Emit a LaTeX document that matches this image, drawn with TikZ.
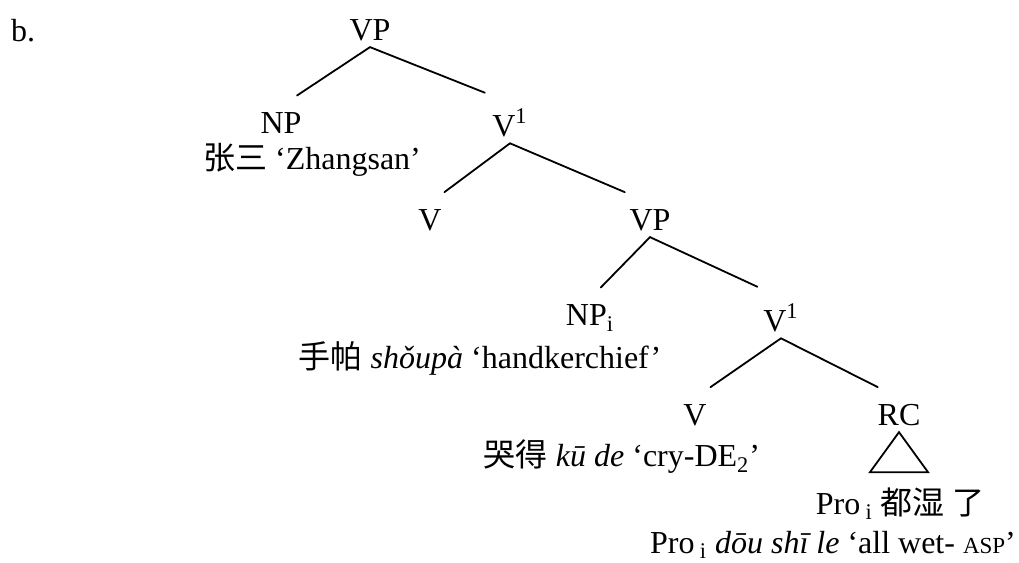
\documentclass[tikz,border=0pt]{standalone}
\usepackage{fontspec}
\setmainfont{Liberation Serif}
\newfontfamily\cjk{Noto Sans CJK SC}
\usepackage{tikz}
\usetikzlibrary{calc,positioning}

\begin{document}
\begin{tikzpicture}[
        x=0.5pt, y=-0.5pt,
        font=\fontsize{16}{19}\selectfont,
        cat/.style={inner sep=3pt},
        gloss/.style={inner sep=1pt},
        branch/.style={line width=0.9pt, line cap=round}
    ]
        \useasboundingbox (0,0) rectangle (1019,563);

        \node[gloss] (lbl) at (23,31) {b.};

        % categories, top to bottom
        \node[cat] (vp0) at (370,30) {VP};
        \node[cat] (np1) at (281,123) {NP};
        \node[cat] (vbar1) at (510,123) {V\textsuperscript{1}};
        \node[cat] (v2) at (430,220) {V};
        \node[cat] (vp2) at (650,220) {VP};
        \node[cat] (npi3) at (590,318) {NP\textsubscript{i}};
        \node[cat] (vbar3) at (781,318) {V\textsuperscript{1}};
        \node[cat] (v4) at (695,415) {V};
        \node[cat] (rc4) at (899,415) {RC};

        % glosses
        \node[gloss] (zs) at (312,160) {{\cjk 张三} ‘Zhangsan’};
        \node[gloss] (hk) at (480,358) {{\cjk 手帕} \textit{shǒupà} ‘handkerchief’};
        \node[gloss] (cry) at (622,457) {{\cjk 哭得} \textit{kū de} ‘cry-DE\textsubscript{2}’};
        \node[gloss] (pro) at (900,504) {Pro\,\textsubscript{i} {\cjk 都湿\ 了}};
        \node[gloss] (wet) at (833,545) {Pro\,\textsubscript{i} \textit{dōu shī le} ‘all wet- {\fontsize{11.5}{13}\selectfont ASP}’};

        \draw[branch] (vp0.south) -- ($(vp0.south)!0.82!(np1.north)$);
        \draw[branch] (vp0.south) -- ($(vp0.south)!0.82!(vbar1.north)$);
        \draw[branch] (vbar1.south) -- ($(vbar1.south)!0.82!(v2.north)$);
        \draw[branch] (vbar1.south) -- ($(vbar1.south)!0.82!(vp2.north)$);
        \draw[branch] (vp2.south) -- ($(vp2.south)!0.82!(npi3.north)$);
        \draw[branch] (vp2.south) -- ($(vp2.south)!0.82!(vbar3.north)$);
        \draw[branch] (vbar3.south) -- ($(vbar3.south)!0.82!(v4.north)$);
        \draw[branch] (vbar3.south) -- ($(vbar3.south)!0.82!(rc4.north)$);

        % roof over RC
        \draw[branch, line join=miter] (rc4.south) -- ++(-29,40) -- ++(58,0) -- cycle;
    \end{tikzpicture}
\end{document}
